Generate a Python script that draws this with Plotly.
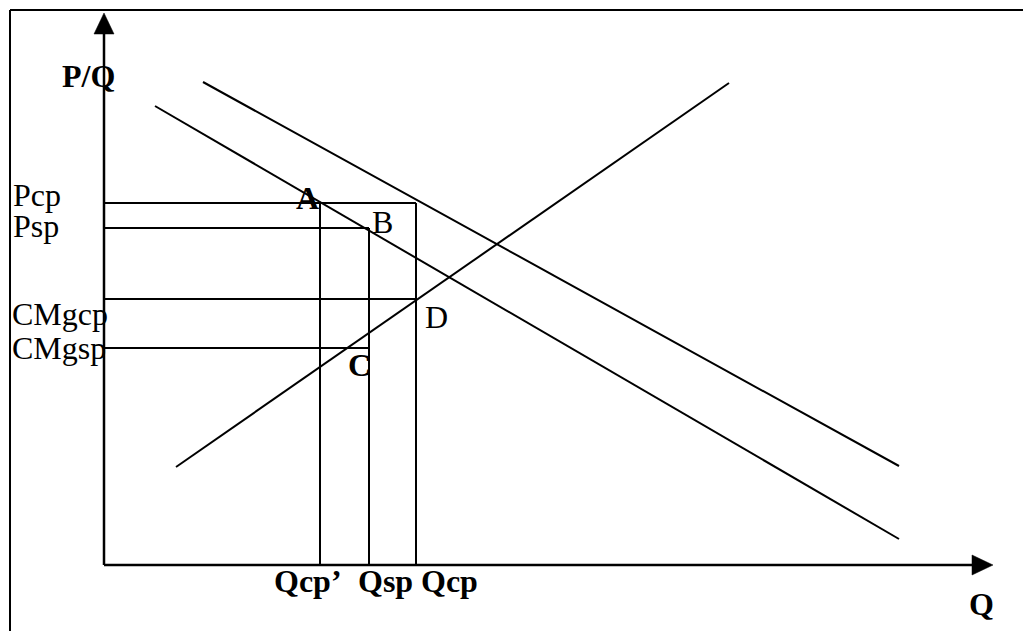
import plotly.graph_objects as go

# ---- data (economic units of the diagram) ----
demand_q = [5.1, 79.5]
demand_p = [45.9, 2.6]
demand2_q = [9.9, 79.5]
demand2_p = [48.3, 9.9]
supply_q = [7.2, 62.5]
supply_p = [9.8, 48.2]

q_levels = {"Qcp’": 21.6, "Qsp": 26.5, "Qcp": 31.2}
p_levels = {"Pcp": 36.2, "Psp": 33.7, "CMgcp": 26.6, "CMgsp": 21.7}

q_axis_max = 88.9
p_axis_max = 55.2

# ---- styles ----
OFF = 8            # page body margin
W, H = 1031 - OFF, 631 - OFF
UNIT = 10.0        # px per unit
X0PX, Y0PX = 104, 565   # origin in window pixels
LW = 2
FONT = "Liberation Serif, Times New Roman, serif"
FS = 32
HEAD_LEN = 2.1
HEAD_HALF = 1.0

fig = go.Figure()

def seg(xs, ys, w=LW):
    fig.add_trace(go.Scatter(x=xs, y=ys, mode="lines",
                             line=dict(color="black", width=w),
                             hoverinfo="skip", showlegend=False))

# axes
seg([0, 0], [0, p_axis_max - HEAD_LEN], 2.5)
seg([0, q_axis_max - HEAD_LEN], [0, 0], 2.5)
# arrowheads
fig.add_trace(go.Scatter(x=[-HEAD_HALF, HEAD_HALF, 0, -HEAD_HALF],
                         y=[p_axis_max - HEAD_LEN, p_axis_max - HEAD_LEN, p_axis_max, p_axis_max - HEAD_LEN],
                         mode="lines", fill="toself", fillcolor="black",
                         line=dict(color="black", width=0.5), hoverinfo="skip", showlegend=False))
fig.add_trace(go.Scatter(x=[q_axis_max - HEAD_LEN, q_axis_max - HEAD_LEN, q_axis_max, q_axis_max - HEAD_LEN],
                         y=[-HEAD_HALF, HEAD_HALF, 0, -HEAD_HALF],
                         mode="lines", fill="toself", fillcolor="black",
                         line=dict(color="black", width=0.5), hoverinfo="skip", showlegend=False))

# curves
seg(demand_q, demand_p)
seg(demand2_q, demand2_p)
seg(supply_q, supply_p)

# guide lines
seg([0, q_levels["Qcp"]], [p_levels["Pcp"]] * 2)
seg([0, q_levels["Qsp"]], [p_levels["Psp"]] * 2)
seg([0, q_levels["Qcp"]], [p_levels["CMgcp"]] * 2)
seg([0, q_levels["Qsp"]], [p_levels["CMgsp"]] * 2)
seg([q_levels["Qcp’"]] * 2, [0, p_levels["Pcp"]])
seg([q_levels["Qsp"]] * 2, [0, p_levels["Psp"]])
seg([q_levels["Qcp"]] * 2, [0, p_levels["Pcp"]])

def px_x(p):
    return (p - X0PX) / UNIT

def px_y(p):
    return (Y0PX - p) / UNIT

def label(text, xpx, ypx, bold=False, xanchor="center"):
    fig.add_annotation(x=px_x(xpx), y=px_y(ypx), text=("<b>%s</b>" % text) if bold else text,
                       showarrow=False, xanchor=xanchor, yanchor="middle",
                       font=dict(family=FONT, size=FS, color="black"))

# left price labels
label("Pcp", 11, 195, xanchor="left")
label("Psp", 11, 226, xanchor="left")
label("CMgcp", 10, 314, xanchor="left")
label("CMgsp", 10, 348, xanchor="left")
label("P/Q", 60, 76, bold=True, xanchor="left")

# points
label("A", 307, 198, bold=True)
label("B", 382, 222)
label("D", 436, 317)
label("C", 359, 365, bold=True)

# quantity labels
label("Qcp’", 272, 581, bold=True, xanchor="left")
label("Qsp", 356, 581, bold=True, xanchor="left")
label("Qcp", 419, 581, bold=True, xanchor="left")
label("Q", 981, 604, bold=True)

# frame (left and top edges)
fig.add_shape(type="line", xref="paper", yref="paper",
              x0=(10 - OFF) / W, x1=1.0, y0=1 - (10 - OFF) / H, y1=1 - (10 - OFF) / H,
              line=dict(color="black", width=2))
fig.add_shape(type="line", xref="paper", yref="paper",
              x0=(10 - OFF) / W, x1=(10 - OFF) / W, y0=0, y1=1 - (10 - OFF) / H,
              line=dict(color="black", width=2))

fig.update_layout(
    width=W, height=H,
    margin=dict(l=0, r=0, t=0, b=0),
    paper_bgcolor="white", plot_bgcolor="white",
    xaxis=dict(range=[(OFF - X0PX) / UNIT, (OFF + W - X0PX) / UNIT], visible=False, fixedrange=True),
    yaxis=dict(range=[(Y0PX - OFF - H) / UNIT, (Y0PX - OFF) / UNIT], visible=False, fixedrange=True),
    showlegend=False,
)

fig.write_html("out.html")
